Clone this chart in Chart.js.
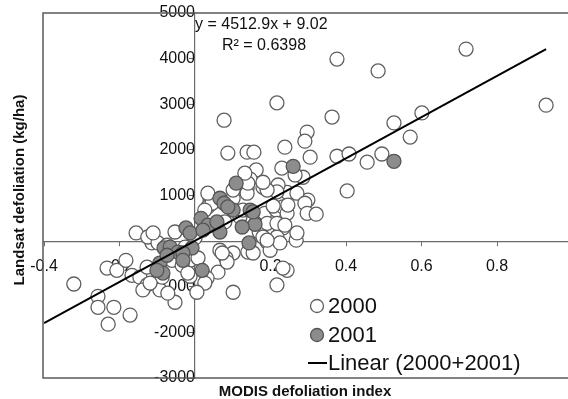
<!DOCTYPE html>
<html>
<head>
<meta charset="utf-8">
<script src="https://cdn.jsdelivr.net/npm/chart.js@4.4.1/dist/chart.umd.min.js"></script>
<style>
  body { margin: 0; background: #fff; }
  #wrap { width: 568px; height: 399px; }
</style>
</head>
<body>
<div id="wrap"><canvas id="myChart" width="568" height="399"></canvas></div>
<script>
// values
const x2000 = [0.718, 0.376, 0.485, 0.930, 0.217, 0.363, 0.297, 0.291, 0.238, 0.305,
    0.376, 0.408, 0.456, 0.495, 0.527, 0.601, 0.570, 0.230, 0.286, 0.403,
    0.244, 0.299, 0.077, 0.087, 0.138, 0.156, 0.162, 0.146, 0.138, 0.180,
    0.220, 0.217, 0.270, 0.291, 0.297, 0.321, 0.040, 0.034, 0.079, 0.119,
    0.170, 0.185, 0.215, 0.233, 0.233, 0.207, 0.268, 0.217, 0.191, 0.140,
    0.101, 0.082, 0.061, 0.244, -0.013, -0.040, -0.114, 0.045, 0.034, 0.101,
    0.138, 0.127, 0.191, 0.180, 0.217, 0.244, -0.061, -0.034, -0.013, 0.032,
    0.085, 0.066, 0.154, 0.199, 0.225, 0.217, 0.233, -0.321, -0.257, -0.257,
    -0.215, -0.230, -0.172, -0.156, -0.125, -0.233, -0.207, -0.183, -0.167, -0.146,
    -0.127, -0.093, -0.053, -0.087, -0.098, -0.074, -0.053, -0.127, -0.138, -0.119,
    0.238, 0.270, 0.191, 0.265, 0.140, 0.191, 0.207, -0.111, 0.026, 0.000,
    0.072, -0.019, 0.026, 0.005, -0.072, 0.101, 0.246, 0.132, 0.101, 0.180,
    -0.026, 0.008]
const y2000 = [4210, 3990, 3730, 2980, 3030, 2720, 2390, 2190, 2060, 1840,
    1860, 1910, 1730, 1910, 2590, 2810, 2280, 1600, 1400, 1100,
    1070, 900, 2650, 1930, 1950, 1950, 1560, 1360, 1160, 1180,
    1230, 1080, 1050, 830, 610, 590, 900, 750, 420, 530,
    200, 610, 680, 750, 290, 240, 20, 90, -20, -240,
    -260, -370, -680, -640, -420, -350, -40, 830, 1050, 940,
    1050, 680, 390, 90, 390, 610, -420, -530, -770, -810,
    -460, -200, -260, -200, -40, -960, -590, -940, -1210, -1450,
    -1450, -1820, -1620, 180, 90, -590, -640, -420, -750, -790,
    -960, -1070, -1340, -790, -40, -90, 200, -570, -1070, -920,
    350, 180, 20, 1450, 1270, 1120, 770, 180, 680, 70,
    -260, -700, -920, -1120, -1140, -1120, 790, 1490, 1120, 1290,
    -130, -370]

const x2001 = [0.260, 0.527, 0.109, 0.066, 0.077, 0.101, 0.087, 0.146, 0.159, 0.125,
    0.016, 0.034, -0.024, -0.013, 0.021, 0.066, 0.143, -0.082, -0.066, -0.045,
    -0.008, -0.093, -0.085, -0.101, 0.019, -0.074, -0.032, 0.058, -0.032, 0.154]
const y2001 = [1640, 1750, 1270, 940, 830, 680, 750, 680, 370, 310,
    500, 350, 290, 180, 240, 200, -40, -150, -130, -240,
    -150, -480, -700, -640, -640, -310, -260, 420, -420, 640]

// linear fit y = 4512.9x + 9.02, end points
const fitX = [-0.4, 0.93]
const fitY = [-1796, 4206]

const xTicks = [-0.4, -0.2, 0, 0.2, 0.4, 0.6, 0.8]
const yTicks = [-3000, -2000, -1000, 0, 1000, 2000, 3000, 4000, 5000]

const legendOrder = ['2000', '2001', 'Linear (2000+2001)']
const eqText = 'y = 4512.9x + 9.02'
const r2Text = 'R² = 0.6398'
const xTitle = 'MODIS defoliation index'
const yTitle = 'Landsat defoliation (kg/ha)'

const FONT = "'Liberation Sans', Arial, sans-serif"

const zip = (xs, ys) => xs.map((x, i) => ({ x: x, y: ys[i] }))
const noPad = (s) => { s.paddingLeft = 0; s.paddingRight = 0; s.paddingTop = 0; s.paddingBottom = 0 }

const extras = {
    id: 'extras',
    beforeDatasetsDraw(chart) {
        const c = chart.ctx
        const a = chart.chartArea
        c.save()
        c.strokeStyle = '#5a5a5a'
        c.lineWidth = 1.5
        c.strokeRect(a.left - 1, a.top, a.right - a.left + 10, a.bottom - a.top)
        c.restore()
    },
    afterDraw(chart) {
        const c = chart.ctx
        c.save()
        c.fillStyle = '#111'
        c.font = '16px ' + FONT
        c.textAlign = 'left'
        c.textBaseline = 'alphabetic'
        c.fillText(eqText, 195, 29)
        c.fillText(r2Text, 222, 50)

        // axis titles
        c.font = 'bold 15px ' + FONT
        c.textAlign = 'center'
        c.fillText(xTitle, 305, 396)
        c.translate(24, 190)
        c.rotate(-Math.PI / 2)
        c.fillText(yTitle, 0, 0)
        c.restore()

        // legend
        c.save()
        const rows = [306, 335, 363]
        c.font = '22px ' + FONT
        c.textBaseline = 'middle'
        legendOrder.forEach((name, i) => {
            const d = chart.data.datasets.find(ds => ds.label === name)
            const y = rows[i]
            if (d.showLine) {
                c.strokeStyle = d.borderColor
                c.lineWidth = 2
                c.beginPath()
                c.moveTo(308, y)
                c.lineTo(327, y)
                c.stroke()
            } else {
                c.beginPath()
                c.arc(317, y, 6.5, 0, Math.PI * 2)
                c.fillStyle = d.backgroundColor
                c.fill()
                c.strokeStyle = d.borderColor
                c.lineWidth = 1.3
                c.stroke()
            }
            c.fillStyle = '#111'
            c.fillText(d.label, 328, y + 1)
        })
        c.restore()
    }
}

new Chart(document.getElementById('myChart'), {
    type: 'scatter',
    data: {
        datasets: [{
            label: 'Linear (2000+2001)',
            data: zip(fitX, fitY),
            showLine: true,
            borderColor: '#000',
            borderWidth: 2,
            pointRadius: 0,
            order: 0
        }, {
            label: '2000',
            data: zip(x2000, y2000),
            backgroundColor: '#ffffff',
            borderColor: '#5e5e5e',
            borderWidth: 1.3,
            pointRadius: 7,
            order: 2
        }, {
            label: '2001',
            data: zip(x2001, y2001),
            backgroundColor: '#8c8c8c',
            borderColor: '#555555',
            borderWidth: 1.3,
            pointRadius: 7,
            order: 1
        }]
    },
    options: {
        responsive: false,
        animation: false,
        layout: { autoPadding: false, padding: { left: 44, top: 13, right: 0, bottom: 21 } },
        plugins: {
            legend: { display: false },
            tooltip: { enabled: false }
        },
        scales: {
            x: {
                type: 'linear',
                min: -0.4,
                max: 0.988,
                position: { y: 0 },
                z: 1,
                afterBuildTicks: (s) => { s.ticks = xTicks.map(v => ({ value: v })) },
                afterFit: noPad,
                grid: { drawOnChartArea: false, tickLength: 4, color: '#6a6a6a' },
                border: { color: '#6a6a6a', width: 1.2 },
                ticks: {
                    padding: 12,
                    color: '#111',
                    font: { family: FONT, size: 16 },
                    callback: (v) => String(v)
                }
            },
            y: {
                type: 'linear',
                min: -3000,
                max: 5000,
                position: { x: 0 },
                z: 1,
                afterBuildTicks: (s) => { s.ticks = yTicks.map(v => ({ value: v })) },
                afterFit: noPad,
                grid: { drawOnChartArea: false, tickLength: 5, color: '#6a6a6a' },
                border: { color: '#6a6a6a', width: 1.2 },
                ticks: {
                    padding: 9,
                    color: '#111',
                    font: { family: FONT, size: 16 },
                    callback: (v) => String(v)
                }
            }
        }
    },
    plugins: [extras]
});
</script>
</body>
</html>
